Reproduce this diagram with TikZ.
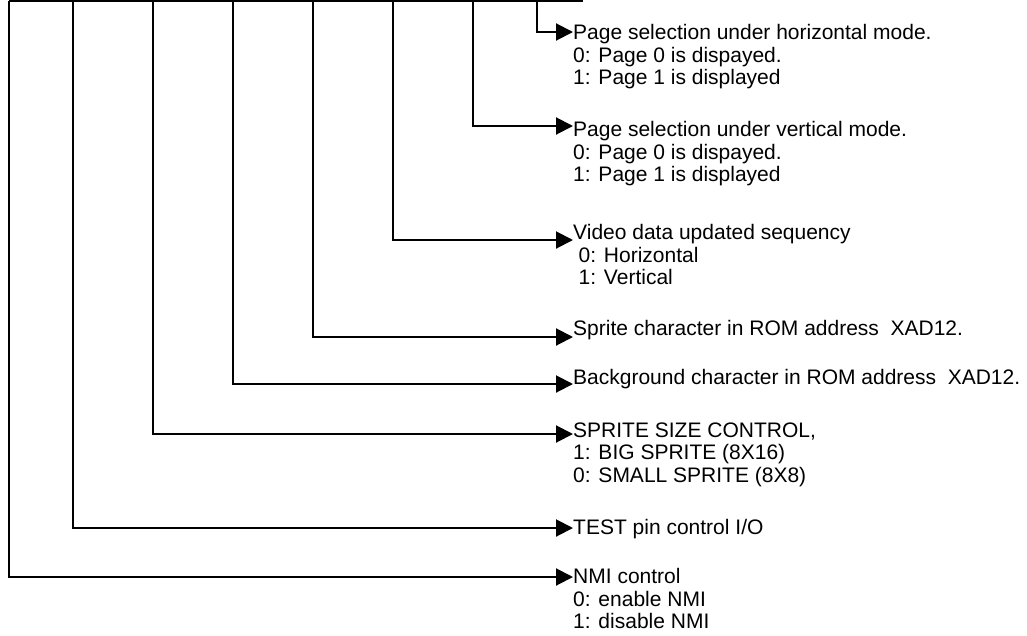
\documentclass[tikz,border=0pt]{standalone}
\usepackage{fontspec}
\setmainfont{Liberation Sans}
\usetikzlibrary{arrows.meta}
\begin{document}
\begin{tikzpicture}[x=1pt,y=-1pt,
  wire/.style={line width=2pt},
  arr/.style={wire,-{Triangle[length=17pt,width=17pt]}},
  desc/.style={anchor=north west,inner sep=0pt,align=left,
               font=\fontsize{21}{22.5}\selectfont}]
\useasboundingbox (0,0) rectangle (1027,635);

% register bits hanging from the bus line
\coordinate (b7) at (9,1);
\coordinate (b6) at (73,1);
\coordinate (b5) at (153,1);
\coordinate (b4) at (233,1);
\coordinate (b3) at (313,1);
\coordinate (b2) at (393,1);
\coordinate (b1) at (473,1);
\coordinate (b0) at (537,1);
\coordinate (busend) at (583,1);
\draw[wire] (b7) -- (busend);

% bit descriptions
\node[desc] (d0) at (573,24.5) {Page selection under horizontal mode.\\0: Page 0 is dispayed.\\1: Page 1 is displayed};
\node[desc] (d1) at (573,121.5) {Page selection under vertical mode.\\0: Page 0 is dispayed.\\1: Page 1 is displayed};
\node[desc] (d2) at (573,224.5) {Video data updated sequency\\\hspace*{5.5pt}0: Horizontal\\\hspace*{5.5pt}1: Vertical};
\node[desc] (d3) at (573,320.5) {Sprite character in ROM address\ \ XAD12.};
\node[desc] (d4) at (573,369.5) {Background character in ROM address\ \ XAD12.};
\node[desc] (d5) at (573,422.5) {SPRITE SIZE CONTROL,\\1: BIG SPRITE (8X16)\\0: SMALL SPRITE (8X8)};
\node[desc] (d6) at (573,519.5) {TEST pin control I/O};
\node[desc] (d7) at (573,568.5) {NMI control\\0: enable NMI\\1: disable NMI};

% connectors
\draw[arr] (b0) |- ([yshift=-7.5pt]d0.north west);
\draw[arr] (b1) |- ([yshift=-4.5pt]d1.north west);
\draw[arr] (b2) |- ([yshift=-15.5pt]d2.north west);
\draw[arr] (b3) |- ([yshift=-16.5pt]d3.north west);
\draw[arr] (b4) |- ([yshift=-14.5pt]d4.north west);
\draw[arr] (b5) |- ([yshift=-11.5pt]d5.north west);
\draw[arr] (b6) |- ([yshift=-8.5pt]d6.north west);
\draw[arr] (b7) |- ([yshift=-8.5pt]d7.north west);
\end{tikzpicture}
\end{document}
